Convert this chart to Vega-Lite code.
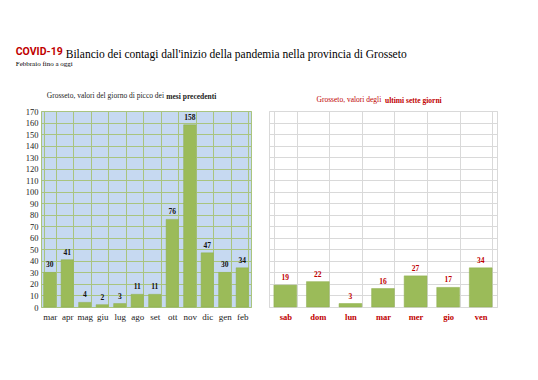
{
  "$schema": "https://vega.github.io/schema/vega-lite/v6.json",
  "background": "white",
  "padding": {"left": 15, "top": 47, "right": 10, "bottom": 5},
  "datasets": {
    "mesi": [
      {"mese": "mar", "casi": 30}, {"mese": "apr", "casi": 41}, {"mese": "mag", "casi": 4},
      {"mese": "giu", "casi": 2}, {"mese": "lug", "casi": 3}, {"mese": "ago", "casi": 11},
      {"mese": "set", "casi": 11}, {"mese": "ott", "casi": 76}, {"mese": "nov", "casi": 158},
      {"mese": "dic", "casi": 47}, {"mese": "gen", "casi": 30}, {"mese": "feb", "casi": 34}
    ],
    "giorni": [
      {"giorno": "sab", "casi": 19}, {"giorno": "dom", "casi": 22}, {"giorno": "lun", "casi": 3},
      {"giorno": "mar", "casi": 16}, {"giorno": "mer", "casi": 27}, {"giorno": "gio", "casi": 17},
      {"giorno": "ven", "casi": 34}
    ]
  },
  "title": {
    "text": "Bilancio dei contagi dall'inizio della pandemia nella provincia di Grosseto",
    "anchor": "start", "frame": "bounds", "dx": 50, "dy": 13,
    "font": "Liberation Serif", "fontSize": 11.5, "fontWeight": "normal", "color": "#000000", "offset": 0
  },
  "config": {
    "font": "Liberation Serif",
    "axis": {"labelFont": "Liberation Serif", "titleFont": "Liberation Serif"}
  },
  "vconcat": [
    {
      "title": {
        "text": "COVID-19", "subtitle": "Febbraio fino a oggi",
        "anchor": "start", "frame": "bounds", "dx": -9,
        "font": "Roboto", "fontSize": 10.5, "fontWeight": "bold", "color": "#c00000",
        "subtitleFont": "Liberation Serif", "subtitleFontSize": 7, "subtitleColor": "#000000", "subtitlePadding": 2.5, "offset": 25
      },
      "hconcat": [
        {
          "title": {
            "text": "Grosseto, valori del giorno di picco dei",
            "anchor": "start", "frame": "bounds", "dx": 22, "dy": 9.5,
            "font": "Liberation Serif", "fontSize": 7.5, "fontWeight": "normal", "color": "#222222", "offset": 2
          },
          "vconcat": [
            {
              "title": {
                "text": "mesi precedenti",
                "anchor": "start", "frame": "bounds", "dx": 141,
                "font": "Liberation Serif", "fontSize": 7.5, "fontWeight": "bold", "color": "#222222", "offset": 7
              },
              "width": 210, "height": 196,
              "data": {"name": "mesi"},
              "view": {"fill": "#c6d9f1", "stroke": "#a9c47f", "strokeWidth": 1},
              "encoding": {
                "x": {
                  "field": "mese", "type": "nominal", "sort": null,
                  "scale": {"paddingInner": 0.3, "paddingOuter": 0.15},
                  "axis": {
                    "title": null, "labelAngle": 0, "tickBand": "extent", "grid": true,
                    "gridColor": "#a9c47f", "gridWidth": 1, "ticks": false, "domain": false,
                    "labelFontSize": 9, "labelColor": "#222222", "labelPadding": 5
                  }
                },
                "y": {
                  "field": "casi", "type": "quantitative",
                  "scale": {"domain": [0, 170], "nice": false},
                  "axis": {
                    "title": null, "values": [0,10,20,30,40,50,60,70,80,90,100,110,120,130,140,150,160,170],
                    "grid": true, "gridColor": "#a9c47f", "gridWidth": 1, "ticks": false, "domain": false,
                    "labelFontSize": 8.5, "labelColor": "#222222", "labelPadding": 3
                  }
                }
              },
              "layer": [
                {"mark": {"type": "bar", "color": "#9bbb59", "stroke": "#8eae4e", "strokeWidth": 0.5}},
                {
                  "mark": {"type": "text", "baseline": "bottom", "dy": -3, "font": "Liberation Serif", "fontSize": 7.5, "fontWeight": "bold", "color": "#111111"},
                  "encoding": {"text": {"field": "casi", "type": "quantitative"}}
                }
              ]
            }
          ]
        },
        {
          "title": {
            "text": "Grosseto, valori degli",
            "anchor": "start", "frame": "bounds", "dx": 48, "dy": 9.5,
            "font": "Liberation Serif", "fontSize": 7.5, "fontWeight": "normal", "color": "#c00000", "offset": 2
          },
          "vconcat": [
            {
              "title": {
                "text": "ultimi sette giorni",
                "anchor": "start", "frame": "bounds", "dx": 116,
                "font": "Liberation Serif", "fontSize": 7.5, "fontWeight": "bold", "color": "#c00000", "offset": 7
              },
              "width": 228, "height": 196,
              "data": {"name": "giorni"},
              "view": {"fill": "white", "stroke": "#d9d9d9", "strokeWidth": 1},
              "encoding": {
                "x": {
                  "field": "giorno", "type": "nominal", "sort": null,
                  "scale": {"paddingInner": 0.3, "paddingOuter": 0.15},
                  "axis": {
                    "title": null, "labelAngle": 0, "tickBand": "extent", "grid": true,
                    "gridColor": "#d9d9d9", "gridWidth": 1, "ticks": false, "domain": false,
                    "labelFontSize": 8.5, "labelFontWeight": "bold", "labelColor": "#c00000", "labelPadding": 5
                  }
                },
                "y": {
                  "field": "casi", "type": "quantitative",
                  "scale": {"domain": [0, 170], "nice": false},
                  "axis": {
                    "title": null, "values": [0,10,20,30,40,50,60,70,80,90,100,110,120,130,140,150,160,170],
                    "grid": true, "gridColor": "#d9d9d9", "gridWidth": 1, "ticks": false, "domain": false,
                    "labels": false
                  }
                }
              },
              "layer": [
                {"mark": {"type": "bar", "color": "#9bbb59", "stroke": "#8eae4e", "strokeWidth": 0.5}},
                {
                  "mark": {"type": "text", "baseline": "bottom", "dy": -3, "font": "Liberation Serif", "fontSize": 7.5, "fontWeight": "bold", "color": "#c00000"},
                  "encoding": {"text": {"field": "casi", "type": "quantitative"}}
                }
              ]
            }
          ]
        }
      ],
      "spacing": 16
    }
  ]
}
